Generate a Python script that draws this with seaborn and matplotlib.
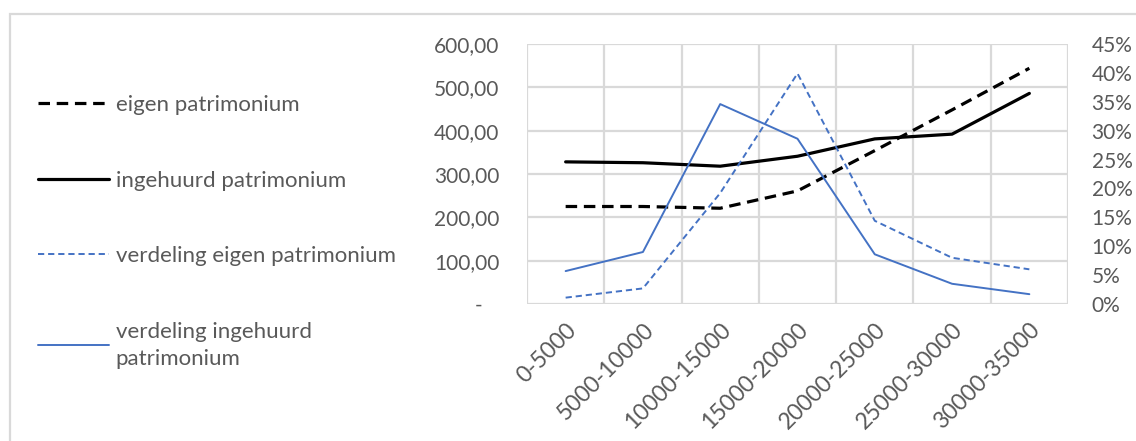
import pandas as pd
import matplotlib
matplotlib.use("Agg")
import matplotlib.pyplot as plt
from matplotlib.patches import Rectangle
from matplotlib.transforms import ScaledTranslation
from matplotlib.ticker import FuncFormatter, MultipleLocator
import seaborn as sns

# data
categories = ["0-5000", "5000-10000", "10000-15000", "15000-20000",
              "20000-25000", "25000-30000", "30000-35000"]
eigen = [225, 225, 221, 261, 354, 448, 544]
ingehuurd = [328, 326, 318, 341, 381, 392, 486]
verdeling_eigen = [0.011, 0.027, 0.192, 0.399, 0.144, 0.080, 0.060]
verdeling_ingehuurd = [0.057, 0.090, 0.346, 0.286, 0.086, 0.035, 0.017]

sns.set_theme(style="white")
plt.rcParams["font.family"] = ["Lato", "DejaVu Sans"]

grey_txt = "#595959"
grid_col = "#d9d9d9"
blue = "#4472C4"
fs = 15

df = pd.DataFrame({
    "cat": pd.Categorical(categories, categories=categories, ordered=True),
    "eigen": eigen,
    "ingehuurd": ingehuurd,
    "v_eigen": verdeling_eigen,
    "v_ingehuurd": verdeling_ingehuurd,
})
df["x"] = df["cat"].cat.codes

fig = plt.figure(figsize=(11.36, 4.41), dpi=100)
ax = fig.add_axes([527 / 1136, 1 - 304 / 441, (1068 - 527) / 1136, (304 - 44) / 441])
ax2 = ax.twinx()

sns.lineplot(data=df, x="x", y="eigen", ax=ax, color="black", lw=2.3,
             sort=False, label="eigen patrimonium", legend=False)
ax.lines[-1].set_dashes((3.6, 2.1))
sns.lineplot(data=df, x="x", y="ingehuurd", ax=ax, color="black", lw=2.3,
             sort=False, label="ingehuurd patrimonium", legend=False)
sns.lineplot(data=df, x="x", y="v_eigen", ax=ax2, color=blue, lw=1.4,
             sort=False, label="verdeling eigen patrimonium", legend=False)
ax2.lines[-1].set_dashes((3.2, 2.0))
sns.lineplot(data=df, x="x", y="v_ingehuurd", ax=ax2, color=blue, lw=1.4,
             sort=False, label="verdeling ingehuurd\npatrimonium", legend=False)

ax.set_xlim(-0.5, len(categories) - 0.5)
ax.set_ylim(0, 600)
ax2.set_ylim(0, 0.45)
ax.yaxis.set_major_locator(MultipleLocator(100))
ax2.yaxis.set_major_locator(MultipleLocator(0.05))

def left_fmt(v, pos):
    if v == 0:
        return "-   "
    return f"{v:.2f}".replace(".", ",")

ax.yaxis.set_major_formatter(FuncFormatter(left_fmt))
ax2.yaxis.set_major_formatter(FuncFormatter(lambda v, p: f"{round(v * 100):d}%"))

# vertical grid at category boundaries
ax.set_xticks(range(len(categories)))
ax.set_xticklabels(categories, rotation=45, ha="right", rotation_mode="anchor",
                   fontsize=16.5, color=grey_txt)
shift = ScaledTranslation(4 / 100, 0, fig.dpi_scale_trans)
for lab in ax.get_xticklabels():
    lab.set_transform(lab.get_transform() + shift)
for b in range(len(categories) + 1):
    ax.axvline(b - 0.5, color=grid_col, lw=1.6, zorder=0)
ax.grid(axis="y", color=grid_col, lw=1.6)
ax.set_axisbelow(True)

for a in (ax, ax2):
    a.set_xlabel("")
    a.set_ylabel("")
    for s in a.spines.values():
        s.set_visible(False)
    a.tick_params(length=0)

ax.tick_params(axis="y", labelsize=fs, labelcolor=grey_txt, pad=20)
ax.tick_params(axis="x", pad=11)
ax2.tick_params(axis="y", labelsize=fs, labelcolor=grey_txt, pad=17)

handles = [h for h in ax.get_lines() if not h.get_label().startswith("_")] + \
          [h for h in ax2.get_lines() if not h.get_label().startswith("_")]
leg = fig.legend(handles=handles, labels=[h.get_label() for h in handles],
                 loc="upper left", bbox_to_anchor=(38 / 1136, 1 - 95 / 441),
                 frameon=False, fontsize=16, labelcolor=grey_txt,
                 borderpad=0, borderaxespad=0,
                 handlelength=3.2, handletextpad=0.3, labelspacing=2.5)
leg.get_texts()[3].set_linespacing(1.45)

# chart area border
fig.add_artist(Rectangle((10 / 1136, -0.1), 1.2, 1 - 14 / 441 + 0.1,
                         transform=fig.transFigure, fill=False,
                         edgecolor=grid_col, lw=1.6))

fig.savefig("out.png", dpi=100)
